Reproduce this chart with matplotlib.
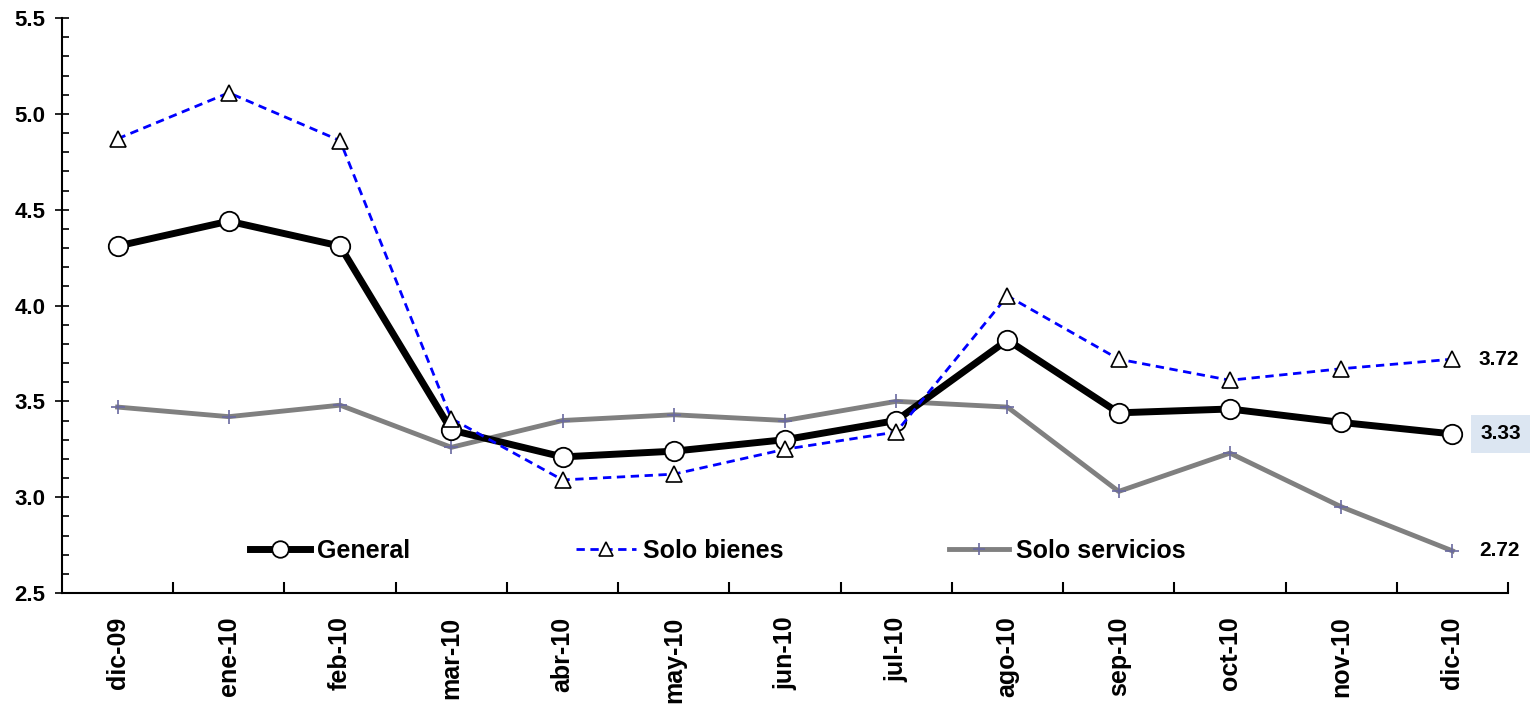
import matplotlib
matplotlib.use("Agg")
import matplotlib.pyplot as plt
from matplotlib.ticker import MultipleLocator

plt.rcParams['font.family'] = ['Liberation Sans', 'DejaVu Sans']
plt.rcParams['font.weight'] = 'bold'

months = ["dic-09", "ene-10", "feb-10", "mar-10", "abr-10", "may-10", "jun-10",
          "jul-10", "ago-10", "sep-10", "oct-10", "nov-10", "dic-10"]
general = [4.31, 4.44, 4.31, 3.35, 3.21, 3.24, 3.30, 3.40, 3.82, 3.44, 3.46, 3.39, 3.33]
bienes = [4.87, 5.11, 4.86, 3.41, 3.09, 3.12, 3.25, 3.34, 4.05, 3.72, 3.61, 3.67, 3.72]
servicios = [3.47, 3.42, 3.48, 3.26, 3.40, 3.43, 3.40, 3.50, 3.47, 3.03, 3.23, 2.95, 2.72]

fig = plt.figure(figsize=(15.37, 7.11), dpi=100)
ax = fig.add_axes([62/1537, 1-593/711, (1508-62)/1537, (593-18)/711])

x = list(range(len(months)))
l1, = ax.plot(x, general, color='black', lw=5, marker='o', ms=14,
              mfc='white', mec='black', mew=1.3, zorder=3, label='General')
l3, = ax.plot(x, servicios, color='#808080', lw=3.5, marker='+', ms=10,
              mec='#6a6aa0', mew=1.2, zorder=2, label='Solo servicios')
l2, = ax.plot(x, bienes, color='#0000ff', lw=2, ls=(0, (3, 2)), marker='^', ms=12,
              mfc='white', mec='black', mew=1.2, zorder=4, label='Solo bienes')

ax.set_xlim(-0.5, len(months) - 0.5)
ax.set_ylim(2.5, 5.5)
ax.yaxis.set_major_locator(MultipleLocator(0.5))
ax.yaxis.set_minor_locator(MultipleLocator(0.1))
ax.yaxis.set_major_formatter(plt.FuncFormatter(lambda v, p: f"{v:.1f}"))
ax.tick_params(axis='y', which='major', direction='inout', length=10, width=1.2,
               labelsize=16, pad=7)
ax.tick_params(axis='y', which='minor', direction='in', length=5, width=1.2)

ax.set_xticks([i + 0.5 for i in x[:-1]] + [len(months) - 0.5])
ax.set_xticklabels([])
ax.set_xticks(x, minor=True)
ax.set_xticklabels(months, minor=True, rotation=90, fontsize=18, fontweight='bold')
ax.tick_params(axis='x', which='major', direction='in', length=8, width=1.5)
ax.tick_params(axis='x', which='minor', length=0, pad=17)

for s in ['top', 'right']:
    ax.spines[s].set_visible(False)
for s in ['left', 'bottom']:
    ax.spines[s].set_linewidth(1.5)

ax.annotate(f"{bienes[-1]:.2f}", xy=(x[-1], bienes[-1]), xytext=(19, 0),
            textcoords='offset points', va='center', ha='left', fontsize=15,
            fontweight='bold')
ax.annotate(f"{general[-1]:.2f}", xy=(x[-1], general[-1]), xytext=(20, 0),
            textcoords='offset points', va='center', ha='left', fontsize=15,
            fontweight='bold',
            bbox=dict(boxstyle='square,pad=0.45', fc='#dce6f2', ec='none'))
ax.annotate(f"{servicios[-1]:.2f}", xy=(x[-1], servicios[-1]), xytext=(19, 0),
            textcoords='offset points', va='center', ha='left', fontsize=15,
            fontweight='bold')

leg = ax.legend(handles=[l1, l2, l3], loc='center left',
                bbox_to_anchor=((250-62)/1446, (593-551)/575),
                borderaxespad=0, borderpad=0,
                ncol=3, frameon=False, fontsize=18, columnspacing=6.6,
                handlelength=2.4, handletextpad=0.3, markerscale=0.85)

fig.savefig("out.png", dpi=100)
